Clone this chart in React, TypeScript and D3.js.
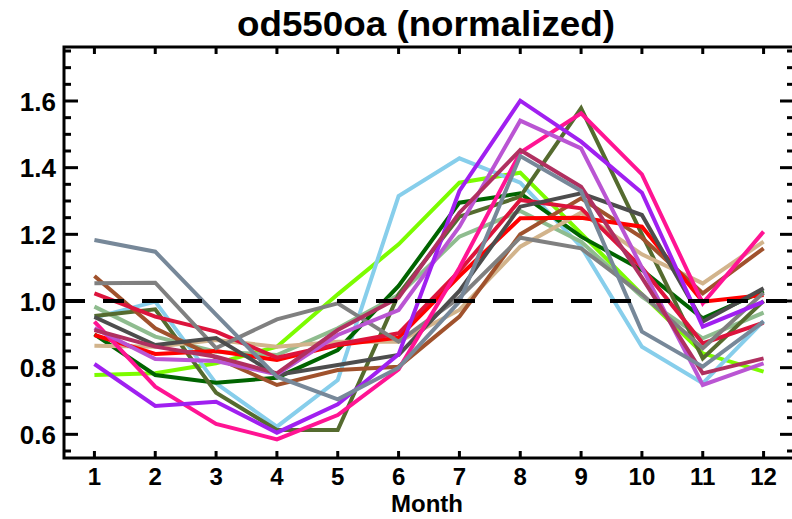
import React from "react";
import * as d3 from "d3";

const months = [1, 2, 3, 4, 5, 6, 7, 8, 9, 10, 11, 12];
const yMajorTicks = [0.6, 0.8, 1.0, 1.2, 1.4, 1.6];

const seriesNames = [
  "lawngreen", "skyblue", "darkgreen", "darkseagreen", "darkolivegreen", "tan", "sienna",
  "red", "crimson", "gray", "darkgray", "deeppink", "mediumorchid", "purple", "maroon", "slategray",
];
const seriesColors = [
  "#7CFC00", "#87CEEB", "#006400", "#8FBC8F", "#556B2F", "#D2B48C", "#A0522D",
  "#FF0000", "#DC143C", "#808080", "#4D4D4D", "#FF1493", "#BA55D3", "#A020F0", "#B03060", "#778899",
];

const lawngreen = [0.778, 0.783, 0.813, 0.863, 1.02, 1.17, 1.355, 1.385, 1.203, 1.02, 0.843, 0.788];
const skyblue = [0.95, 0.998, 0.753, 0.623, 0.763, 1.315, 1.428, 1.355, 1.163, 0.863, 0.753, 0.94];
const darkgreen = [0.9, 0.778, 0.755, 0.77, 0.853, 1.045, 1.295, 1.323, 1.193, 1.093, 0.948, 1.03];
const darkseagreen = [0.983, 0.893, 0.848, 0.838, 0.918, 1.018, 1.193, 1.27, 1.178, 1.013, 0.888, 0.965];
const darkolivegreen = [0.955, 0.975, 0.725, 0.613, 0.613, 1.02, 1.253, 1.313, 1.578, 1.2, 0.828, 1.0];
const tan = [0.866, 0.863, 0.883, 0.863, 0.878, 0.878, 0.973, 1.163, 1.265, 1.14, 1.053, 1.178];
const sienna = [1.075, 0.918, 0.83, 0.748, 0.793, 0.803, 0.953, 1.2, 1.308, 1.19, 1.023, 1.158];
const red = [0.898, 0.841, 0.85, 0.823, 0.868, 0.89, 1.075, 1.248, 1.25, 1.223, 0.998, 1.018];
const crimson = [1.023, 0.953, 0.908, 0.83, 0.87, 0.903, 1.09, 1.303, 1.278, 1.1, 0.873, 0.935];
const gray = [1.053, 1.055, 0.859, 0.945, 0.993, 0.878, 1.01, 1.19, 1.158, 1.02, 0.858, 1.025];
const darkgray = [0.952, 0.868, 0.889, 0.778, 0.808, 0.838, 1.03, 1.283, 1.323, 1.258, 0.938, 1.038];
const deeppink = [0.938, 0.743, 0.631, 0.585, 0.658, 0.795, 1.1, 1.445, 1.563, 1.38, 0.993, 1.208];
const mediumorchid = [0.918, 0.826, 0.82, 0.78, 0.898, 0.973, 1.223, 1.541, 1.458, 1.1, 0.748, 0.813];
const purple = [0.811, 0.685, 0.698, 0.605, 0.69, 0.84, 1.33, 1.601, 1.478, 1.325, 0.923, 0.998];
const maroon = [0.913, 0.863, 0.833, 0.783, 0.913, 1.01, 1.265, 1.453, 1.343, 1.07, 0.783, 0.828];
const slategray = [1.183, 1.148, 0.959, 0.773, 0.705, 0.8, 0.998, 1.435, 1.33, 0.908, 0.803, 0.938];

const seriesValues = [
  lawngreen, skyblue, darkgreen, darkseagreen, darkolivegreen, tan, sienna,
  red, crimson, gray, darkgray, deeppink, mediumorchid, purple, maroon, slategray,
];

const W = 792;
const H = 519;
const left = 64;
const right = 794;
const top = 47;
const bottom = 458;

export default function App() {
  const x = d3.scaleLinear().domain([0.5, 12.5]).range([left, right]);
  const y = d3.scaleLinear().domain([0.529, 1.762]).range([bottom, top]);
  const line = d3
    .line<number>()
    .x((_, i) => x(months[i]))
    .y((d) => y(d));

  const minorTicks = d3.range(0.55, 1.76, 0.05).map((v) => Math.round(v * 100) / 100);
  const font = "'Liberation Sans', Arial, sans-serif";

  return (
    <svg
      width={W}
      height={H}
      style={{ position: "absolute", left: 0, top: 0, background: "#fff" }}
    >
      <rect x={0} y={0} width={W} height={H} fill="#fff" />
      {seriesValues.map((vals, i) => (
        <path
          key={seriesNames[i]}
          d={line(vals) || ""}
          fill="none"
          stroke={seriesColors[i]}
          strokeWidth={4}
          strokeLinejoin="miter"
        />
      ))}
      <line
        x1={left}
        x2={right}
        y1={y(1.0)}
        y2={y(1.0)}
        stroke="#000"
        strokeWidth={4}
        strokeDasharray="21,18"
      />
      <rect
        x={left}
        y={top}
        width={right - left}
        height={bottom - top}
        fill="none"
        stroke="#000"
        strokeWidth={3}
      />
      {months.map((m) => (
        <g key={"xt" + m}>
          <line x1={x(m)} x2={x(m)} y1={bottom} y2={bottom - 7} stroke="#000" strokeWidth={3} />
          <line x1={x(m)} x2={x(m)} y1={top} y2={top + 7} stroke="#000" strokeWidth={3} />
          <text
            x={x(m)}
            y={485}
            textAnchor="middle"
            fontFamily={font}
            fontWeight="bold"
            fontSize={24}
          >
            {m}
          </text>
        </g>
      ))}
      {minorTicks.map((v) => {
        const major = yMajorTicks.some((t) => Math.abs(t - v) < 1e-6);
        const len = major ? 14 : 7;
        return (
          <g key={"yt" + v}>
            <line x1={left} x2={left + len} y1={y(v)} y2={y(v)} stroke="#000" strokeWidth={3} />
            <line x1={right} x2={right - len} y1={y(v)} y2={y(v)} stroke="#000" strokeWidth={3} />
          </g>
        );
      })}
      {yMajorTicks.map((v) => (
        <text
          key={"yl" + v}
          x={56}
          y={y(v) + 9.5}
          textAnchor="end"
          fontFamily={font}
          fontWeight="bold"
          fontSize={26}
        >
          {v.toFixed(1)}
        </text>
      ))}
      <text
        x={427}
        y={512}
        textAnchor="middle"
        fontFamily={font}
        fontWeight="bold"
        fontSize={24}
      >
        Month
      </text>
      <text
        x={426}
        y={36}
        textAnchor="middle"
        fontFamily={font}
        fontWeight="bold"
        fontSize={35}
        textLength={378}
        lengthAdjust="spacingAndGlyphs"
      >
        od550oa (normalized)
      </text>
    </svg>
  );
}
